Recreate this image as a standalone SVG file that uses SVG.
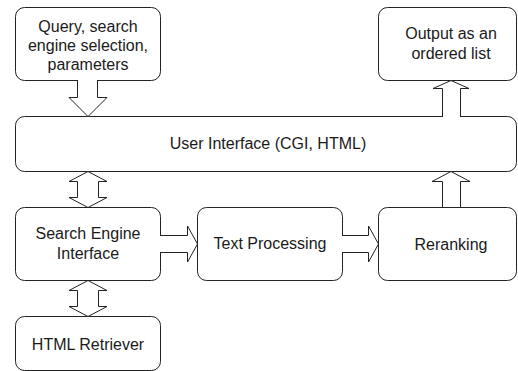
<svg xmlns="http://www.w3.org/2000/svg" width="518" height="371" viewBox="0 0 518 371">
<style>
.box{fill:#fff;stroke:#222;stroke-width:1}
.arr{fill:#fff;stroke:#222;stroke-width:1;stroke-linejoin:miter}
text{font-family:"Liberation Sans",Arial,sans-serif;font-size:16px;fill:#1a1a1a;text-anchor:middle}
</style>
<rect width="518" height="371" fill="#fff"/>
<g id="query"><rect class="box" x="15.5" y="7.5" width="145" height="73" rx="9"/><text x="88" y="32">Query, search</text><text x="88" y="51">engine selection,</text><text x="88" y="70">parameters</text></g>
<g id="output"><rect class="box" x="378.5" y="7.5" width="138" height="73" rx="9"/><text x="451" y="39">Output as an</text><text x="451" y="58.5">ordered list</text></g>
<g id="ui"><rect class="box" x="15.5" y="116.5" width="501" height="55" rx="9"/><text x="268" y="149">User Interface (CGI, HTML)</text></g>
<g id="sei"><rect class="box" x="15.5" y="207.5" width="145" height="73" rx="9"/><text x="88" y="239">Search Engine</text><text x="88" y="258.5">Interface</text></g>
<g id="tp"><rect class="box" x="197.5" y="207.5" width="145" height="73" rx="9"/><text x="270" y="249">Text Processing</text></g>
<g id="rerank"><rect class="box" x="378.5" y="207.5" width="138" height="73" rx="9"/><text x="451" y="249.5">Reranking</text></g>
<g id="html"><rect class="box" x="15.5" y="316.5" width="145" height="54" rx="9"/><text x="88" y="350">HTML Retriever</text></g>
<g id="connectors">
<path class="arr" d="M77.5,80 V97.5 H69 L88,116.5 L107,97.5 H97.5 V80"/>
<path class="arr" d="M442.5,117 V88.5 H433 L451,80.5 L469,88.5 H460.5 V117"/>
<path class="arr" d="M88,171.5 L107,181.5 H98.5 V197.5 H107 L88,207.5 L69,197.5 H77.5 V181.5 H69 Z"/>
<path class="arr" d="M442.5,207 V181.5 H432 L451,171.5 L470,181.5 H460.5 V207"/>
<path class="arr" d="M88,280.5 L107,290.5 H98.5 V306.5 H107 L88,316.5 L69,306.5 H77.5 V290.5 H69 Z"/>
<path class="arr" d="M160,235.5 H187.5 V226 L197.5,244 L187.5,262 V252.5 H160"/>
<path class="arr" d="M342,235.5 H368.5 V226 L378.5,244 L368.5,262 V252.5 H342"/>
</g>
</svg>
